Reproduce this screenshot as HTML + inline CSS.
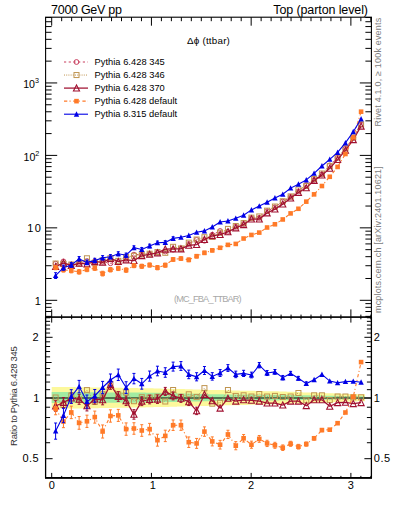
<!DOCTYPE html><html><head><meta charset="utf-8"><style>html,body{margin:0;padding:0;background:#fff;width:393px;height:512px;overflow:hidden}svg{display:block}text{font-family:"Liberation Sans",sans-serif}</style></head><body>
<svg width="393" height="512" viewBox="0 0 393 512">
<rect width="393" height="512" fill="#fff"/>
<g clip-path="url(#rclip)">
<polygon fill="#fcf89c" points="51.7,387 59.53,387 59.53,387 67.37,387 67.37,387.06 75.2,387.06 75.2,387.18 83.03,387.18 83.03,387.3 90.86,387.3 90.86,387.42 98.7,387.42 98.7,387.54 106.53,387.54 106.53,387.66 114.36,387.66 114.36,387.78 122.19,387.78 122.19,387.9 130.03,387.9 130.03,388.02 137.86,388.02 137.86,388.14 145.69,388.14 145.69,388.3 153.53,388.3 153.53,388.5 161.36,388.5 161.36,388.7 169.19,388.7 169.19,388.9 177.02,388.9 177.02,389.1 184.86,389.1 184.86,389.3 192.69,389.3 192.69,389.5 200.52,389.5 200.52,389.7 208.36,389.7 208.36,389.9 216.19,389.9 216.19,390.1 224.02,390.1 224.02,390.29 231.85,390.29 231.85,390.46 239.69,390.46 239.69,390.63 247.52,390.63 247.52,390.81 255.35,390.81 255.35,390.98 263.18,390.98 263.18,391.15 271.02,391.15 271.02,391.33 278.85,391.33 278.85,391.5 286.68,391.5 286.68,391.8 294.52,391.8 294.52,392.1 302.35,392.1 302.35,392.4 310.18,392.4 310.18,392.7 318.01,392.7 318.01,393 325.85,393 325.85,393.3 333.68,393.3 333.68,393.6 341.51,393.6 341.51,393.9 349.35,393.9 349.35,394.1 357.18,394.1 357.18,394.3 365.01,394.3 365.01,401.3 357.18,401.3 357.18,401.5 349.35,401.5 349.35,401.7 341.51,401.7 341.51,402 333.68,402 333.68,402.3 325.85,402.3 325.85,402.6 318.01,402.6 318.01,402.9 310.18,402.9 310.18,403.2 302.35,403.2 302.35,403.5 294.52,403.5 294.52,403.8 286.68,403.8 286.68,404.1 278.85,404.1 278.85,404.27 271.02,404.27 271.02,404.45 263.18,404.45 263.18,404.62 255.35,404.62 255.35,404.79 247.52,404.79 247.52,404.97 239.69,404.97 239.69,405.14 231.85,405.14 231.85,405.31 224.02,405.31 224.02,405.5 216.19,405.5 216.19,405.7 208.36,405.7 208.36,405.9 200.52,405.9 200.52,406.1 192.69,406.1 192.69,406.3 184.86,406.3 184.86,406.5 177.02,406.5 177.02,406.7 169.19,406.7 169.19,406.9 161.36,406.9 161.36,407.1 153.53,407.1 153.53,407.3 145.69,407.3 145.69,407.46 137.86,407.46 137.86,407.58 130.03,407.58 130.03,407.7 122.19,407.7 122.19,407.82 114.36,407.82 114.36,407.94 106.53,407.94 106.53,408.06 98.7,408.06 98.7,408.18 90.86,408.18 90.86,408.3 83.03,408.3 83.03,408.42 75.2,408.42 75.2,408.54 67.37,408.54 67.37,408.6 59.53,408.6 59.53,408.6 51.7,408.6"/>
<polygon fill="#a2eca2" points="51.7,392.1 59.53,392.1 59.53,392.1 67.37,392.1 67.37,392.12 75.2,392.12 75.2,392.18 83.03,392.18 83.03,392.23 90.86,392.23 90.86,392.28 98.7,392.28 98.7,392.33 106.53,392.33 106.53,392.38 114.36,392.38 114.36,392.43 122.19,392.43 122.19,392.48 130.03,392.48 130.03,392.53 137.86,392.53 137.86,392.58 145.69,392.58 145.69,392.69 153.53,392.69 153.53,392.87 161.36,392.87 161.36,393.05 169.19,393.05 169.19,393.23 177.02,393.23 177.02,393.41 184.86,393.41 184.86,393.59 192.69,393.59 192.69,393.77 200.52,393.77 200.52,393.95 208.36,393.95 208.36,394.13 216.19,394.13 216.19,394.31 224.02,394.31 224.02,394.43 231.85,394.43 231.85,394.49 239.69,394.49 239.69,394.55 247.52,394.55 247.52,394.61 255.35,394.61 255.35,394.67 263.18,394.67 263.18,394.73 271.02,394.73 271.02,394.79 278.85,394.79 278.85,394.85 286.68,394.85 286.68,394.99 294.52,394.99 294.52,395.14 302.35,395.14 302.35,395.28 310.18,395.28 310.18,395.43 318.01,395.43 318.01,395.57 325.85,395.57 325.85,395.71 333.68,395.71 333.68,395.86 341.51,395.86 341.51,396 349.35,396 349.35,396.1 357.18,396.1 357.18,396.2 365.01,396.2 365.01,399 357.18,399 357.18,399.1 349.35,399.1 349.35,399.2 341.51,399.2 341.51,399.34 333.68,399.34 333.68,399.49 325.85,399.49 325.85,399.63 318.01,399.63 318.01,399.78 310.18,399.78 310.18,399.92 302.35,399.92 302.35,400.06 294.52,400.06 294.52,400.21 286.68,400.21 286.68,400.35 278.85,400.35 278.85,400.41 271.02,400.41 271.02,400.47 263.18,400.47 263.18,400.53 255.35,400.53 255.35,400.59 247.52,400.59 247.52,400.65 239.69,400.65 239.69,400.71 231.85,400.71 231.85,400.77 224.02,400.77 224.02,400.89 216.19,400.89 216.19,401.07 208.36,401.07 208.36,401.25 200.52,401.25 200.52,401.43 192.69,401.43 192.69,401.61 184.86,401.61 184.86,401.79 177.02,401.79 177.02,401.97 169.19,401.97 169.19,402.15 161.36,402.15 161.36,402.33 153.53,402.33 153.53,402.51 145.69,402.51 145.69,402.62 137.86,402.62 137.86,402.68 130.03,402.68 130.03,402.73 122.19,402.73 122.19,402.78 114.36,402.78 114.36,402.83 106.53,402.83 106.53,402.88 98.7,402.88 98.7,402.93 90.86,402.93 90.86,402.98 83.03,402.98 83.03,403.03 75.2,403.03 75.2,403.08 67.37,403.08 67.37,403.1 59.53,403.1 59.53,403.1 51.7,403.1"/>
</g>
<defs><clipPath id="mclip"><rect x="45" y="17" width="326" height="300"/></clipPath><clipPath id="rclip"><rect x="45" y="317" width="326" height="160.7"/></clipPath></defs>
<line x1="45" y1="398" x2="371" y2="398" stroke="#000" stroke-width="1.2"/>
<g clip-path="url(#mclip)">
<path d="M55.62,263.7 L63.45,261.41 L71.28,265.44 L79.11,262.9 L86.95,261.11 L94.78,261.35 L102.61,261.57 L110.45,263.27 L118.28,262.14 L126.11,258.94 L133.94,254.67 L141.78,254.6 L149.61,253.87 L157.44,252.5 L165.28,251.56 L173.11,249.68 L180.94,248.8 L188.77,243.98 L196.61,239.92 L204.44,240.78 L212.27,234.76 L220.1,230.98 L227.94,231.78 L235.77,226.78 L243.6,224.04 L251.44,218.17 L259.27,217.89 L267.1,211.18 L274.93,207.28 L282.77,201.6 L290.6,196.94 L298.43,191.28 L306.27,185.07 L314.1,179.88 L321.93,174.48 L329.76,165.37 L337.6,157.86 L345.43,148.79 L353.26,137.7 L361.09,124.58" fill="none" stroke="#c83c5c" stroke-width="1.0" stroke-dasharray="2.2,2.5"/>
<circle cx="55.62" cy="263.7" r="2.4" fill="none" stroke="#c83c5c" stroke-width="1"/>
<circle cx="63.45" cy="261.41" r="2.4" fill="none" stroke="#c83c5c" stroke-width="1"/>
<circle cx="71.28" cy="265.44" r="2.4" fill="none" stroke="#c83c5c" stroke-width="1"/>
<circle cx="79.11" cy="262.9" r="2.4" fill="none" stroke="#c83c5c" stroke-width="1"/>
<circle cx="86.95" cy="261.11" r="2.4" fill="none" stroke="#c83c5c" stroke-width="1"/>
<circle cx="94.78" cy="261.35" r="2.4" fill="none" stroke="#c83c5c" stroke-width="1"/>
<circle cx="102.61" cy="261.57" r="2.4" fill="none" stroke="#c83c5c" stroke-width="1"/>
<circle cx="110.45" cy="263.27" r="2.4" fill="none" stroke="#c83c5c" stroke-width="1"/>
<circle cx="118.28" cy="262.14" r="2.4" fill="none" stroke="#c83c5c" stroke-width="1"/>
<circle cx="126.11" cy="258.94" r="2.4" fill="none" stroke="#c83c5c" stroke-width="1"/>
<circle cx="133.94" cy="254.67" r="2.4" fill="none" stroke="#c83c5c" stroke-width="1"/>
<circle cx="141.78" cy="254.6" r="2.4" fill="none" stroke="#c83c5c" stroke-width="1"/>
<circle cx="149.61" cy="253.87" r="2.4" fill="none" stroke="#c83c5c" stroke-width="1"/>
<circle cx="157.44" cy="252.5" r="2.4" fill="none" stroke="#c83c5c" stroke-width="1"/>
<circle cx="165.28" cy="251.56" r="2.4" fill="none" stroke="#c83c5c" stroke-width="1"/>
<circle cx="173.11" cy="249.68" r="2.4" fill="none" stroke="#c83c5c" stroke-width="1"/>
<circle cx="180.94" cy="248.8" r="2.4" fill="none" stroke="#c83c5c" stroke-width="1"/>
<circle cx="188.77" cy="243.98" r="2.4" fill="none" stroke="#c83c5c" stroke-width="1"/>
<circle cx="196.61" cy="239.92" r="2.4" fill="none" stroke="#c83c5c" stroke-width="1"/>
<circle cx="204.44" cy="240.78" r="2.4" fill="none" stroke="#c83c5c" stroke-width="1"/>
<circle cx="212.27" cy="234.76" r="2.4" fill="none" stroke="#c83c5c" stroke-width="1"/>
<circle cx="220.1" cy="230.98" r="2.4" fill="none" stroke="#c83c5c" stroke-width="1"/>
<circle cx="227.94" cy="231.78" r="2.4" fill="none" stroke="#c83c5c" stroke-width="1"/>
<circle cx="235.77" cy="226.78" r="2.4" fill="none" stroke="#c83c5c" stroke-width="1"/>
<circle cx="243.6" cy="224.04" r="2.4" fill="none" stroke="#c83c5c" stroke-width="1"/>
<circle cx="251.44" cy="218.17" r="2.4" fill="none" stroke="#c83c5c" stroke-width="1"/>
<circle cx="259.27" cy="217.89" r="2.4" fill="none" stroke="#c83c5c" stroke-width="1"/>
<circle cx="267.1" cy="211.18" r="2.4" fill="none" stroke="#c83c5c" stroke-width="1"/>
<circle cx="274.93" cy="207.28" r="2.4" fill="none" stroke="#c83c5c" stroke-width="1"/>
<circle cx="282.77" cy="201.6" r="2.4" fill="none" stroke="#c83c5c" stroke-width="1"/>
<circle cx="290.6" cy="196.94" r="2.4" fill="none" stroke="#c83c5c" stroke-width="1"/>
<circle cx="298.43" cy="191.28" r="2.4" fill="none" stroke="#c83c5c" stroke-width="1"/>
<circle cx="306.27" cy="185.07" r="2.4" fill="none" stroke="#c83c5c" stroke-width="1"/>
<circle cx="314.1" cy="179.88" r="2.4" fill="none" stroke="#c83c5c" stroke-width="1"/>
<circle cx="321.93" cy="174.48" r="2.4" fill="none" stroke="#c83c5c" stroke-width="1"/>
<circle cx="329.76" cy="165.37" r="2.4" fill="none" stroke="#c83c5c" stroke-width="1"/>
<circle cx="337.6" cy="157.86" r="2.4" fill="none" stroke="#c83c5c" stroke-width="1"/>
<circle cx="345.43" cy="148.79" r="2.4" fill="none" stroke="#c83c5c" stroke-width="1"/>
<circle cx="353.26" cy="137.7" r="2.4" fill="none" stroke="#c83c5c" stroke-width="1"/>
<circle cx="361.09" cy="124.58" r="2.4" fill="none" stroke="#c83c5c" stroke-width="1"/>
<path d="M55.62,263.53 L63.45,263.93 L71.28,264.54 L79.11,263.51 L86.95,258.27 L94.78,262.76 L102.61,260.24 L110.45,258.24 L118.28,260.84 L126.11,256.96 L133.94,255.82 L141.78,254.32 L149.61,253.69 L157.44,252.04 L165.28,252.82 L173.11,246.81 L180.94,248.4 L188.77,242.65 L196.61,239.52 L204.44,237.23 L212.27,236.81 L220.1,232.67 L227.94,228.91 L235.77,226.03 L243.6,223.07 L251.44,217.63 L259.27,216.45 L267.1,210.65 L274.93,206.53 L282.77,201.24 L290.6,196.4 L298.43,189.48 L306.27,185.94 L314.1,178.91 L321.93,173.51 L329.76,166.13 L337.6,157.32 L345.43,148.25 L353.26,137.45 L361.09,124.33" fill="none" stroke="#bf9450" stroke-width="1.0" stroke-dasharray="1,1.2"/>
<rect x="53.12" y="261.03" width="5" height="5" fill="none" stroke="#bf9450" stroke-width="1"/>
<rect x="60.95" y="261.43" width="5" height="5" fill="none" stroke="#bf9450" stroke-width="1"/>
<rect x="68.78" y="262.04" width="5" height="5" fill="none" stroke="#bf9450" stroke-width="1"/>
<rect x="76.61" y="261.01" width="5" height="5" fill="none" stroke="#bf9450" stroke-width="1"/>
<rect x="84.45" y="255.77" width="5" height="5" fill="none" stroke="#bf9450" stroke-width="1"/>
<rect x="92.28" y="260.26" width="5" height="5" fill="none" stroke="#bf9450" stroke-width="1"/>
<rect x="100.11" y="257.74" width="5" height="5" fill="none" stroke="#bf9450" stroke-width="1"/>
<rect x="107.95" y="255.74" width="5" height="5" fill="none" stroke="#bf9450" stroke-width="1"/>
<rect x="115.78" y="258.34" width="5" height="5" fill="none" stroke="#bf9450" stroke-width="1"/>
<rect x="123.61" y="254.46" width="5" height="5" fill="none" stroke="#bf9450" stroke-width="1"/>
<rect x="131.44" y="253.32" width="5" height="5" fill="none" stroke="#bf9450" stroke-width="1"/>
<rect x="139.28" y="251.82" width="5" height="5" fill="none" stroke="#bf9450" stroke-width="1"/>
<rect x="147.11" y="251.19" width="5" height="5" fill="none" stroke="#bf9450" stroke-width="1"/>
<rect x="154.94" y="249.54" width="5" height="5" fill="none" stroke="#bf9450" stroke-width="1"/>
<rect x="162.78" y="250.32" width="5" height="5" fill="none" stroke="#bf9450" stroke-width="1"/>
<rect x="170.61" y="244.31" width="5" height="5" fill="none" stroke="#bf9450" stroke-width="1"/>
<rect x="178.44" y="245.9" width="5" height="5" fill="none" stroke="#bf9450" stroke-width="1"/>
<rect x="186.27" y="240.15" width="5" height="5" fill="none" stroke="#bf9450" stroke-width="1"/>
<rect x="194.11" y="237.02" width="5" height="5" fill="none" stroke="#bf9450" stroke-width="1"/>
<rect x="201.94" y="234.73" width="5" height="5" fill="none" stroke="#bf9450" stroke-width="1"/>
<rect x="209.77" y="234.31" width="5" height="5" fill="none" stroke="#bf9450" stroke-width="1"/>
<rect x="217.6" y="230.17" width="5" height="5" fill="none" stroke="#bf9450" stroke-width="1"/>
<rect x="225.44" y="226.41" width="5" height="5" fill="none" stroke="#bf9450" stroke-width="1"/>
<rect x="233.27" y="223.53" width="5" height="5" fill="none" stroke="#bf9450" stroke-width="1"/>
<rect x="241.1" y="220.57" width="5" height="5" fill="none" stroke="#bf9450" stroke-width="1"/>
<rect x="248.94" y="215.13" width="5" height="5" fill="none" stroke="#bf9450" stroke-width="1"/>
<rect x="256.77" y="213.95" width="5" height="5" fill="none" stroke="#bf9450" stroke-width="1"/>
<rect x="264.6" y="208.15" width="5" height="5" fill="none" stroke="#bf9450" stroke-width="1"/>
<rect x="272.43" y="204.03" width="5" height="5" fill="none" stroke="#bf9450" stroke-width="1"/>
<rect x="280.27" y="198.74" width="5" height="5" fill="none" stroke="#bf9450" stroke-width="1"/>
<rect x="288.1" y="193.9" width="5" height="5" fill="none" stroke="#bf9450" stroke-width="1"/>
<rect x="295.93" y="186.98" width="5" height="5" fill="none" stroke="#bf9450" stroke-width="1"/>
<rect x="303.77" y="183.44" width="5" height="5" fill="none" stroke="#bf9450" stroke-width="1"/>
<rect x="311.6" y="176.41" width="5" height="5" fill="none" stroke="#bf9450" stroke-width="1"/>
<rect x="319.43" y="171.01" width="5" height="5" fill="none" stroke="#bf9450" stroke-width="1"/>
<rect x="327.26" y="163.63" width="5" height="5" fill="none" stroke="#bf9450" stroke-width="1"/>
<rect x="335.1" y="154.82" width="5" height="5" fill="none" stroke="#bf9450" stroke-width="1"/>
<rect x="342.93" y="145.75" width="5" height="5" fill="none" stroke="#bf9450" stroke-width="1"/>
<rect x="350.76" y="134.95" width="5" height="5" fill="none" stroke="#bf9450" stroke-width="1"/>
<rect x="358.59" y="121.83" width="5" height="5" fill="none" stroke="#bf9450" stroke-width="1"/>
<path d="M55.62,266.58 L63.45,263.03 L71.28,265.47 L79.11,263.36 L86.95,263.95 L94.78,261.75 L102.61,262.26 L110.45,258.49 L118.28,261.6 L126.11,259.94 L133.94,260.57 L141.78,255.75 L149.61,254.41 L157.44,252.93 L165.28,249.19 L173.11,248.93 L180.94,248.94 L188.77,245.35 L196.61,244.55 L204.44,239.53 L212.27,235.77 L220.1,234.65 L227.94,231.92 L235.77,227.93 L243.6,224.69 L251.44,219.03 L259.27,219.04 L267.1,213.02 L274.93,209.11 L282.77,204.15 L290.6,198.09 L298.43,192.43 L306.27,187.84 L314.1,180.52 L321.93,175.13 L329.76,168.36 L337.6,159.55 L345.43,150.34 L353.26,139.75 L361.09,126.27" fill="none" stroke="#a01030" stroke-width="1.25"/>
<polygon points="55.62,263.38 52.57,269.48 58.67,269.48" fill="none" stroke="#a01030" stroke-width="1.1"/>
<polygon points="63.45,259.83 60.4,265.93 66.5,265.93" fill="none" stroke="#a01030" stroke-width="1.1"/>
<polygon points="71.28,262.27 68.23,268.37 74.33,268.37" fill="none" stroke="#a01030" stroke-width="1.1"/>
<polygon points="79.11,260.16 76.06,266.26 82.16,266.26" fill="none" stroke="#a01030" stroke-width="1.1"/>
<polygon points="86.95,260.75 83.9,266.85 90,266.85" fill="none" stroke="#a01030" stroke-width="1.1"/>
<polygon points="94.78,258.55 91.73,264.65 97.83,264.65" fill="none" stroke="#a01030" stroke-width="1.1"/>
<polygon points="102.61,259.06 99.56,265.16 105.66,265.16" fill="none" stroke="#a01030" stroke-width="1.1"/>
<polygon points="110.45,255.29 107.4,261.39 113.5,261.39" fill="none" stroke="#a01030" stroke-width="1.1"/>
<polygon points="118.28,258.4 115.23,264.5 121.33,264.5" fill="none" stroke="#a01030" stroke-width="1.1"/>
<polygon points="126.11,256.74 123.06,262.84 129.16,262.84" fill="none" stroke="#a01030" stroke-width="1.1"/>
<polygon points="133.94,257.37 130.89,263.47 136.99,263.47" fill="none" stroke="#a01030" stroke-width="1.1"/>
<polygon points="141.78,252.55 138.73,258.65 144.83,258.65" fill="none" stroke="#a01030" stroke-width="1.1"/>
<polygon points="149.61,251.21 146.56,257.31 152.66,257.31" fill="none" stroke="#a01030" stroke-width="1.1"/>
<polygon points="157.44,249.73 154.39,255.83 160.49,255.83" fill="none" stroke="#a01030" stroke-width="1.1"/>
<polygon points="165.28,245.99 162.23,252.09 168.33,252.09" fill="none" stroke="#a01030" stroke-width="1.1"/>
<polygon points="173.11,245.73 170.06,251.83 176.16,251.83" fill="none" stroke="#a01030" stroke-width="1.1"/>
<polygon points="180.94,245.74 177.89,251.84 183.99,251.84" fill="none" stroke="#a01030" stroke-width="1.1"/>
<polygon points="188.77,242.15 185.72,248.25 191.82,248.25" fill="none" stroke="#a01030" stroke-width="1.1"/>
<polygon points="196.61,241.35 193.56,247.45 199.66,247.45" fill="none" stroke="#a01030" stroke-width="1.1"/>
<polygon points="204.44,236.33 201.39,242.43 207.49,242.43" fill="none" stroke="#a01030" stroke-width="1.1"/>
<polygon points="212.27,232.57 209.22,238.67 215.32,238.67" fill="none" stroke="#a01030" stroke-width="1.1"/>
<polygon points="220.1,231.45 217.05,237.55 223.15,237.55" fill="none" stroke="#a01030" stroke-width="1.1"/>
<polygon points="227.94,228.72 224.89,234.82 230.99,234.82" fill="none" stroke="#a01030" stroke-width="1.1"/>
<polygon points="235.77,224.73 232.72,230.83 238.82,230.83" fill="none" stroke="#a01030" stroke-width="1.1"/>
<polygon points="243.6,221.49 240.55,227.59 246.65,227.59" fill="none" stroke="#a01030" stroke-width="1.1"/>
<polygon points="251.44,215.83 248.39,221.93 254.49,221.93" fill="none" stroke="#a01030" stroke-width="1.1"/>
<polygon points="259.27,215.84 256.22,221.94 262.32,221.94" fill="none" stroke="#a01030" stroke-width="1.1"/>
<polygon points="267.1,209.82 264.05,215.92 270.15,215.92" fill="none" stroke="#a01030" stroke-width="1.1"/>
<polygon points="274.93,205.91 271.88,212.01 277.98,212.01" fill="none" stroke="#a01030" stroke-width="1.1"/>
<polygon points="282.77,200.95 279.72,207.05 285.82,207.05" fill="none" stroke="#a01030" stroke-width="1.1"/>
<polygon points="290.6,194.89 287.55,200.99 293.65,200.99" fill="none" stroke="#a01030" stroke-width="1.1"/>
<polygon points="298.43,189.23 295.38,195.33 301.48,195.33" fill="none" stroke="#a01030" stroke-width="1.1"/>
<polygon points="306.27,184.64 303.22,190.74 309.32,190.74" fill="none" stroke="#a01030" stroke-width="1.1"/>
<polygon points="314.1,177.32 311.05,183.42 317.15,183.42" fill="none" stroke="#a01030" stroke-width="1.1"/>
<polygon points="321.93,171.93 318.88,178.03 324.98,178.03" fill="none" stroke="#a01030" stroke-width="1.1"/>
<polygon points="329.76,165.16 326.71,171.26 332.81,171.26" fill="none" stroke="#a01030" stroke-width="1.1"/>
<polygon points="337.6,156.35 334.55,162.45 340.65,162.45" fill="none" stroke="#a01030" stroke-width="1.1"/>
<polygon points="345.43,147.14 342.38,153.24 348.48,153.24" fill="none" stroke="#a01030" stroke-width="1.1"/>
<polygon points="353.26,136.55 350.21,142.65 356.31,142.65" fill="none" stroke="#a01030" stroke-width="1.1"/>
<polygon points="361.09,123.07 358.04,129.17 364.14,129.17" fill="none" stroke="#a01030" stroke-width="1.1"/>
<path d="M55.62,267.59 L63.45,269.86 L71.28,270.61 L79.11,271.85 L86.95,269.48 L94.78,268.22 L102.61,273.61 L110.45,269.74 L118.28,268.39 L126.11,270.11 L133.94,265.63 L141.78,266.28 L149.61,265.05 L157.44,267.67 L165.28,265.18 L173.11,259.46 L180.94,258.57 L188.77,259.87 L196.61,256.23 L204.44,252.86 L212.27,250.36 L220.1,247.77 L227.94,244.86 L235.77,243.92 L243.6,238.52 L251.44,234.95 L259.27,232.59 L267.1,227.5 L274.93,224.28 L282.77,219.46 L290.6,213.4 L298.43,208.78 L306.27,201.64 L314.1,194.36 L321.93,186.02 L329.76,176.77 L337.6,166.92 L345.43,154 L353.26,137.31 L361.09,111.68" fill="none" stroke="#ff7a28" stroke-width="1.1" stroke-dasharray="3.3,2.2,1.1,2.6"/>
<path d="M55.62,265.45 V269.72 M54.12,265.45 h3 M54.12,269.72 h3" stroke="#ff7a28" stroke-width="1"/>
<path d="M63.45,267.64 V272.07 M61.95,267.64 h3 M61.95,272.07 h3" stroke="#ff7a28" stroke-width="1"/>
<path d="M71.28,268.37 V272.86 M69.78,268.37 h3 M69.78,272.86 h3" stroke="#ff7a28" stroke-width="1"/>
<path d="M79.11,269.56 V274.13 M77.61,269.56 h3 M77.61,274.13 h3" stroke="#ff7a28" stroke-width="1"/>
<path d="M86.95,267.28 V271.68 M85.45,267.28 h3 M85.45,271.68 h3" stroke="#ff7a28" stroke-width="1"/>
<path d="M94.78,266.06 V270.38 M93.28,266.06 h3 M93.28,270.38 h3" stroke="#ff7a28" stroke-width="1"/>
<path d="M102.61,271.26 V275.96 M101.11,271.26 h3 M101.11,275.96 h3" stroke="#ff7a28" stroke-width="1"/>
<path d="M110.45,267.53 V271.95 M108.95,267.53 h3 M108.95,271.95 h3" stroke="#ff7a28" stroke-width="1"/>
<path d="M118.28,266.23 V270.55 M116.78,266.23 h3 M116.78,270.55 h3" stroke="#ff7a28" stroke-width="1"/>
<path d="M126.11,267.89 V272.34 M124.61,267.89 h3 M124.61,272.34 h3" stroke="#ff7a28" stroke-width="1"/>
<path d="M133.94,263.56 V267.7 M132.44,263.56 h3 M132.44,267.7 h3" stroke="#ff7a28" stroke-width="1"/>
<path d="M141.78,264.19 V268.38 M140.28,264.19 h3 M140.28,268.38 h3" stroke="#ff7a28" stroke-width="1"/>
<path d="M149.61,262.99 V267.1 M148.11,262.99 h3 M148.11,267.1 h3" stroke="#ff7a28" stroke-width="1"/>
<path d="M157.44,265.53 V269.81 M155.94,265.53 h3 M155.94,269.81 h3" stroke="#ff7a28" stroke-width="1"/>
<path d="M165.28,263.13 V267.24 M163.78,263.13 h3 M163.78,267.24 h3" stroke="#ff7a28" stroke-width="1"/>
<path d="M173.11,257.58 V261.34 M171.61,257.58 h3 M171.61,261.34 h3" stroke="#ff7a28" stroke-width="1"/>
<path d="M180.94,256.72 V260.43 M179.44,256.72 h3 M179.44,260.43 h3" stroke="#ff7a28" stroke-width="1"/>
<path d="M188.77,257.98 V261.76 M187.27,257.98 h3 M187.27,261.76 h3" stroke="#ff7a28" stroke-width="1"/>
<path d="M196.61,254.45 V258.02 M195.11,254.45 h3 M195.11,258.02 h3" stroke="#ff7a28" stroke-width="1"/>
<path d="M204.44,251.17 V254.55 M202.94,251.17 h3 M202.94,254.55 h3" stroke="#ff7a28" stroke-width="1"/>
<path d="M212.27,248.73 V251.98 M210.77,248.73 h3 M210.77,251.98 h3" stroke="#ff7a28" stroke-width="1"/>
<rect x="53.32" y="265.29" width="4.6" height="4.6" fill="#ff7a28"/>
<rect x="61.15" y="267.56" width="4.6" height="4.6" fill="#ff7a28"/>
<rect x="68.98" y="268.31" width="4.6" height="4.6" fill="#ff7a28"/>
<rect x="76.81" y="269.55" width="4.6" height="4.6" fill="#ff7a28"/>
<rect x="84.65" y="267.18" width="4.6" height="4.6" fill="#ff7a28"/>
<rect x="92.48" y="265.92" width="4.6" height="4.6" fill="#ff7a28"/>
<rect x="100.31" y="271.31" width="4.6" height="4.6" fill="#ff7a28"/>
<rect x="108.15" y="267.44" width="4.6" height="4.6" fill="#ff7a28"/>
<rect x="115.98" y="266.09" width="4.6" height="4.6" fill="#ff7a28"/>
<rect x="123.81" y="267.81" width="4.6" height="4.6" fill="#ff7a28"/>
<rect x="131.64" y="263.33" width="4.6" height="4.6" fill="#ff7a28"/>
<rect x="139.48" y="263.98" width="4.6" height="4.6" fill="#ff7a28"/>
<rect x="147.31" y="262.75" width="4.6" height="4.6" fill="#ff7a28"/>
<rect x="155.14" y="265.37" width="4.6" height="4.6" fill="#ff7a28"/>
<rect x="162.98" y="262.88" width="4.6" height="4.6" fill="#ff7a28"/>
<rect x="170.81" y="257.16" width="4.6" height="4.6" fill="#ff7a28"/>
<rect x="178.64" y="256.27" width="4.6" height="4.6" fill="#ff7a28"/>
<rect x="186.47" y="257.57" width="4.6" height="4.6" fill="#ff7a28"/>
<rect x="194.31" y="253.93" width="4.6" height="4.6" fill="#ff7a28"/>
<rect x="202.14" y="250.56" width="4.6" height="4.6" fill="#ff7a28"/>
<rect x="209.97" y="248.06" width="4.6" height="4.6" fill="#ff7a28"/>
<rect x="217.8" y="245.47" width="4.6" height="4.6" fill="#ff7a28"/>
<rect x="225.64" y="242.56" width="4.6" height="4.6" fill="#ff7a28"/>
<rect x="233.47" y="241.62" width="4.6" height="4.6" fill="#ff7a28"/>
<rect x="241.3" y="236.22" width="4.6" height="4.6" fill="#ff7a28"/>
<rect x="249.14" y="232.65" width="4.6" height="4.6" fill="#ff7a28"/>
<rect x="256.97" y="230.29" width="4.6" height="4.6" fill="#ff7a28"/>
<rect x="264.8" y="225.2" width="4.6" height="4.6" fill="#ff7a28"/>
<rect x="272.63" y="221.98" width="4.6" height="4.6" fill="#ff7a28"/>
<rect x="280.47" y="217.16" width="4.6" height="4.6" fill="#ff7a28"/>
<rect x="288.3" y="211.1" width="4.6" height="4.6" fill="#ff7a28"/>
<rect x="296.13" y="206.48" width="4.6" height="4.6" fill="#ff7a28"/>
<rect x="303.97" y="199.34" width="4.6" height="4.6" fill="#ff7a28"/>
<rect x="311.8" y="192.06" width="4.6" height="4.6" fill="#ff7a28"/>
<rect x="319.63" y="183.72" width="4.6" height="4.6" fill="#ff7a28"/>
<rect x="327.46" y="174.47" width="4.6" height="4.6" fill="#ff7a28"/>
<rect x="335.3" y="164.62" width="4.6" height="4.6" fill="#ff7a28"/>
<rect x="343.13" y="151.7" width="4.6" height="4.6" fill="#ff7a28"/>
<rect x="350.96" y="135.01" width="4.6" height="4.6" fill="#ff7a28"/>
<rect x="358.79" y="109.38" width="4.6" height="4.6" fill="#ff7a28"/>
<path d="M55.62,275.6 L63.45,267.7 L71.28,264.9 L79.11,258.8 L86.95,262.4 L94.78,260.6 L102.61,257.8 L110.45,256.8 L118.28,253.8 L126.11,255.2 L133.94,247.7 L141.78,249.5 L149.61,246 L157.44,242.8 L165.28,242.4 L173.11,238.4 L180.94,237.3 L188.77,235.5 L196.61,232.3 L204.44,230.9 L212.27,227 L220.1,222 L227.94,221 L235.77,218.3 L243.6,215.2 L251.44,209.9 L259.27,206.1 L267.1,202.2 L274.93,197.9 L282.77,194.3 L290.6,188.1 L298.43,184.2 L306.27,179.9 L314.1,173.3 L321.93,166 L329.76,159.3 L337.6,152.4 L345.43,142.9 L353.26,131.7 L361.09,118.9" fill="none" stroke="#0000e6" stroke-width="1.1"/>
<path d="M55.62,272.69 V278.51 M54.12,272.69 h3 M54.12,278.51 h3" stroke="#0000e6" stroke-width="1"/>
<path d="M63.45,265.13 V270.27 M61.95,265.13 h3 M61.95,270.27 h3" stroke="#0000e6" stroke-width="1"/>
<path d="M71.28,262.44 V267.36 M69.78,262.44 h3 M69.78,267.36 h3" stroke="#0000e6" stroke-width="1"/>
<path d="M79.11,256.57 V261.03 M77.61,256.57 h3 M77.61,261.03 h3" stroke="#0000e6" stroke-width="1"/>
<path d="M86.95,260.04 V264.76 M85.45,260.04 h3 M85.45,264.76 h3" stroke="#0000e6" stroke-width="1"/>
<path d="M94.78,258.31 V262.89 M93.28,258.31 h3 M93.28,262.89 h3" stroke="#0000e6" stroke-width="1"/>
<path d="M102.61,255.61 V259.99 M101.11,255.61 h3 M101.11,259.99 h3" stroke="#0000e6" stroke-width="1"/>
<path d="M110.45,254.64 V258.96 M108.95,254.64 h3 M108.95,258.96 h3" stroke="#0000e6" stroke-width="1"/>
<path d="M118.28,251.74 V255.86 M116.78,251.74 h3 M116.78,255.86 h3" stroke="#0000e6" stroke-width="1"/>
<path d="M126.11,253.09 V257.31 M124.61,253.09 h3 M124.61,257.31 h3" stroke="#0000e6" stroke-width="1"/>
<path d="M133.94,245.83 V249.57 M132.44,245.83 h3 M132.44,249.57 h3" stroke="#0000e6" stroke-width="1"/>
<path d="M141.78,247.58 V251.42 M140.28,247.58 h3 M140.28,251.42 h3" stroke="#0000e6" stroke-width="1"/>
<path d="M149.61,244.18 V247.82 M148.11,244.18 h3 M148.11,247.82 h3" stroke="#0000e6" stroke-width="1"/>
<path d="M157.44,241.07 V244.53 M155.94,241.07 h3 M155.94,244.53 h3" stroke="#0000e6" stroke-width="1"/>
<path d="M165.28,240.68 V244.12 M163.78,240.68 h3 M163.78,244.12 h3" stroke="#0000e6" stroke-width="1"/>
<path d="M173.11,236.79 V240.01 M171.61,236.79 h3 M171.61,240.01 h3" stroke="#0000e6" stroke-width="1"/>
<polygon points="55.62,272.7 52.92,278.1 58.32,278.1" fill="#0000e6"/>
<polygon points="63.45,264.8 60.75,270.2 66.15,270.2" fill="#0000e6"/>
<polygon points="71.28,262 68.58,267.4 73.98,267.4" fill="#0000e6"/>
<polygon points="79.11,255.9 76.41,261.3 81.81,261.3" fill="#0000e6"/>
<polygon points="86.95,259.5 84.25,264.9 89.65,264.9" fill="#0000e6"/>
<polygon points="94.78,257.7 92.08,263.1 97.48,263.1" fill="#0000e6"/>
<polygon points="102.61,254.9 99.91,260.3 105.31,260.3" fill="#0000e6"/>
<polygon points="110.45,253.9 107.75,259.3 113.15,259.3" fill="#0000e6"/>
<polygon points="118.28,250.9 115.58,256.3 120.98,256.3" fill="#0000e6"/>
<polygon points="126.11,252.3 123.41,257.7 128.81,257.7" fill="#0000e6"/>
<polygon points="133.94,244.8 131.24,250.2 136.64,250.2" fill="#0000e6"/>
<polygon points="141.78,246.6 139.08,252 144.48,252" fill="#0000e6"/>
<polygon points="149.61,243.1 146.91,248.5 152.31,248.5" fill="#0000e6"/>
<polygon points="157.44,239.9 154.74,245.3 160.14,245.3" fill="#0000e6"/>
<polygon points="165.28,239.5 162.58,244.9 167.98,244.9" fill="#0000e6"/>
<polygon points="173.11,235.5 170.41,240.9 175.81,240.9" fill="#0000e6"/>
<polygon points="180.94,234.4 178.24,239.8 183.64,239.8" fill="#0000e6"/>
<polygon points="188.77,232.6 186.07,238 191.47,238" fill="#0000e6"/>
<polygon points="196.61,229.4 193.91,234.8 199.31,234.8" fill="#0000e6"/>
<polygon points="204.44,228 201.74,233.4 207.14,233.4" fill="#0000e6"/>
<polygon points="212.27,224.1 209.57,229.5 214.97,229.5" fill="#0000e6"/>
<polygon points="220.1,219.1 217.4,224.5 222.8,224.5" fill="#0000e6"/>
<polygon points="227.94,218.1 225.24,223.5 230.64,223.5" fill="#0000e6"/>
<polygon points="235.77,215.4 233.07,220.8 238.47,220.8" fill="#0000e6"/>
<polygon points="243.6,212.3 240.9,217.7 246.3,217.7" fill="#0000e6"/>
<polygon points="251.44,207 248.74,212.4 254.14,212.4" fill="#0000e6"/>
<polygon points="259.27,203.2 256.57,208.6 261.97,208.6" fill="#0000e6"/>
<polygon points="267.1,199.3 264.4,204.7 269.8,204.7" fill="#0000e6"/>
<polygon points="274.93,195 272.23,200.4 277.63,200.4" fill="#0000e6"/>
<polygon points="282.77,191.4 280.07,196.8 285.47,196.8" fill="#0000e6"/>
<polygon points="290.6,185.2 287.9,190.6 293.3,190.6" fill="#0000e6"/>
<polygon points="298.43,181.3 295.73,186.7 301.13,186.7" fill="#0000e6"/>
<polygon points="306.27,177 303.57,182.4 308.97,182.4" fill="#0000e6"/>
<polygon points="314.1,170.4 311.4,175.8 316.8,175.8" fill="#0000e6"/>
<polygon points="321.93,163.1 319.23,168.5 324.63,168.5" fill="#0000e6"/>
<polygon points="329.76,156.4 327.06,161.8 332.46,161.8" fill="#0000e6"/>
<polygon points="337.6,149.5 334.9,154.9 340.3,154.9" fill="#0000e6"/>
<polygon points="345.43,140 342.73,145.4 348.13,145.4" fill="#0000e6"/>
<polygon points="353.26,128.8 350.56,134.2 355.96,134.2" fill="#0000e6"/>
<polygon points="361.09,116 358.39,121.4 363.79,121.4" fill="#0000e6"/>
</g>
<g clip-path="url(#rclip)">
<path d="M55.62,397.5 L63.45,405 L71.28,395.5 L79.11,399.7 L86.95,390.1 L94.78,401.9 L102.61,394.3 L110.45,384 L118.28,394.4 L126.11,392.5 L133.94,401.2 L141.78,397.2 L149.61,397.5 L157.44,396.7 L165.28,401.5 L173.11,390 L180.94,396.9 L188.77,394.3 L196.61,396.9 L204.44,388.1 L212.27,403.7 L220.1,402.7 L227.94,390 L235.77,395.9 L243.6,395.3 L251.44,396.5 L259.27,394 L267.1,396.5 L274.93,395.9 L282.77,397 L290.6,396.5 L298.43,393 L306.27,400.4 L314.1,395.3 L321.93,395.3 L329.76,400.1 L337.6,396.5 L345.43,396.5 L353.26,397.3 L361.09,397.3" fill="none" stroke="#bf9450" stroke-width="1.0" stroke-dasharray="1,1.2"/>
<rect x="53.12" y="395" width="5" height="5" fill="none" stroke="#bf9450" stroke-width="1"/>
<rect x="60.95" y="402.5" width="5" height="5" fill="none" stroke="#bf9450" stroke-width="1"/>
<rect x="68.78" y="393" width="5" height="5" fill="none" stroke="#bf9450" stroke-width="1"/>
<rect x="76.61" y="397.2" width="5" height="5" fill="none" stroke="#bf9450" stroke-width="1"/>
<rect x="84.45" y="387.6" width="5" height="5" fill="none" stroke="#bf9450" stroke-width="1"/>
<rect x="92.28" y="399.4" width="5" height="5" fill="none" stroke="#bf9450" stroke-width="1"/>
<rect x="100.11" y="391.8" width="5" height="5" fill="none" stroke="#bf9450" stroke-width="1"/>
<rect x="107.95" y="381.5" width="5" height="5" fill="none" stroke="#bf9450" stroke-width="1"/>
<rect x="115.78" y="391.9" width="5" height="5" fill="none" stroke="#bf9450" stroke-width="1"/>
<rect x="123.61" y="390" width="5" height="5" fill="none" stroke="#bf9450" stroke-width="1"/>
<rect x="131.44" y="398.7" width="5" height="5" fill="none" stroke="#bf9450" stroke-width="1"/>
<rect x="139.28" y="394.7" width="5" height="5" fill="none" stroke="#bf9450" stroke-width="1"/>
<rect x="147.11" y="395" width="5" height="5" fill="none" stroke="#bf9450" stroke-width="1"/>
<rect x="154.94" y="394.2" width="5" height="5" fill="none" stroke="#bf9450" stroke-width="1"/>
<rect x="162.78" y="399" width="5" height="5" fill="none" stroke="#bf9450" stroke-width="1"/>
<rect x="170.61" y="387.5" width="5" height="5" fill="none" stroke="#bf9450" stroke-width="1"/>
<rect x="178.44" y="394.4" width="5" height="5" fill="none" stroke="#bf9450" stroke-width="1"/>
<rect x="186.27" y="391.8" width="5" height="5" fill="none" stroke="#bf9450" stroke-width="1"/>
<rect x="194.11" y="394.4" width="5" height="5" fill="none" stroke="#bf9450" stroke-width="1"/>
<rect x="201.94" y="385.6" width="5" height="5" fill="none" stroke="#bf9450" stroke-width="1"/>
<rect x="209.77" y="401.2" width="5" height="5" fill="none" stroke="#bf9450" stroke-width="1"/>
<rect x="217.6" y="400.2" width="5" height="5" fill="none" stroke="#bf9450" stroke-width="1"/>
<rect x="225.44" y="387.5" width="5" height="5" fill="none" stroke="#bf9450" stroke-width="1"/>
<rect x="233.27" y="393.4" width="5" height="5" fill="none" stroke="#bf9450" stroke-width="1"/>
<rect x="241.1" y="392.8" width="5" height="5" fill="none" stroke="#bf9450" stroke-width="1"/>
<rect x="248.94" y="394" width="5" height="5" fill="none" stroke="#bf9450" stroke-width="1"/>
<rect x="256.77" y="391.5" width="5" height="5" fill="none" stroke="#bf9450" stroke-width="1"/>
<rect x="264.6" y="394" width="5" height="5" fill="none" stroke="#bf9450" stroke-width="1"/>
<rect x="272.43" y="393.4" width="5" height="5" fill="none" stroke="#bf9450" stroke-width="1"/>
<rect x="280.27" y="394.5" width="5" height="5" fill="none" stroke="#bf9450" stroke-width="1"/>
<rect x="288.1" y="394" width="5" height="5" fill="none" stroke="#bf9450" stroke-width="1"/>
<rect x="295.93" y="390.5" width="5" height="5" fill="none" stroke="#bf9450" stroke-width="1"/>
<rect x="303.77" y="397.9" width="5" height="5" fill="none" stroke="#bf9450" stroke-width="1"/>
<rect x="311.6" y="392.8" width="5" height="5" fill="none" stroke="#bf9450" stroke-width="1"/>
<rect x="319.43" y="392.8" width="5" height="5" fill="none" stroke="#bf9450" stroke-width="1"/>
<rect x="327.26" y="397.6" width="5" height="5" fill="none" stroke="#bf9450" stroke-width="1"/>
<rect x="335.1" y="394" width="5" height="5" fill="none" stroke="#bf9450" stroke-width="1"/>
<rect x="342.93" y="394" width="5" height="5" fill="none" stroke="#bf9450" stroke-width="1"/>
<rect x="350.76" y="394.8" width="5" height="5" fill="none" stroke="#bf9450" stroke-width="1"/>
<rect x="358.59" y="394.8" width="5" height="5" fill="none" stroke="#bf9450" stroke-width="1"/>
<path d="M55.62,406 L63.45,402.5 L71.28,398.1 L79.11,399.3 L86.95,405.9 L94.78,399.1 L102.61,399.9 L110.45,384.7 L118.28,396.5 L126.11,400.8 L133.94,414.4 L141.78,401.2 L149.61,399.5 L157.44,399.2 L165.28,391.4 L173.11,395.9 L180.94,398.4 L188.77,401.8 L196.61,410.9 L204.44,394.5 L212.27,400.8 L220.1,408.2 L227.94,398.4 L235.77,401.2 L243.6,399.8 L251.44,400.4 L259.27,401.2 L267.1,403.1 L274.93,403.1 L282.77,405.1 L290.6,401.2 L298.43,401.2 L306.27,405.7 L314.1,399.8 L321.93,399.8 L329.76,406.3 L337.6,402.7 L345.43,402.3 L353.26,403.7 L361.09,402.7" fill="none" stroke="#a01030" stroke-width="1.25"/>
<path d="M55.62,400.73 V411.27 M54.12,400.73 h3 M54.12,411.27 h3" stroke="#a01030" stroke-width="1"/>
<path d="M63.45,397.52 V407.48 M61.95,397.52 h3 M61.95,407.48 h3" stroke="#a01030" stroke-width="1"/>
<path d="M71.28,392.93 V403.27 M69.78,392.93 h3 M69.78,403.27 h3" stroke="#a01030" stroke-width="1"/>
<path d="M79.11,394.3 V404.3 M77.61,394.3 h3 M77.61,404.3 h3" stroke="#a01030" stroke-width="1"/>
<path d="M86.95,400.85 V410.95 M85.45,400.85 h3 M85.45,410.95 h3" stroke="#a01030" stroke-width="1"/>
<path d="M94.78,394.22 V403.98 M93.28,394.22 h3 M93.28,403.98 h3" stroke="#a01030" stroke-width="1"/>
<path d="M102.61,394.98 V404.82 M101.11,394.98 h3 M101.11,404.82 h3" stroke="#a01030" stroke-width="1"/>
<path d="M110.45,380.07 V389.33 M108.95,380.07 h3 M108.95,389.33 h3" stroke="#a01030" stroke-width="1"/>
<path d="M118.28,391.63 V401.37 M116.78,391.63 h3 M116.78,401.37 h3" stroke="#a01030" stroke-width="1"/>
<path d="M126.11,396.06 V405.54 M124.61,396.06 h3 M124.61,405.54 h3" stroke="#a01030" stroke-width="1"/>
<path d="M133.94,409.61 V419.19 M132.44,409.61 h3 M132.44,419.19 h3" stroke="#a01030" stroke-width="1"/>
<path d="M141.78,396.77 V405.63 M140.28,396.77 h3 M140.28,405.63 h3" stroke="#a01030" stroke-width="1"/>
<path d="M149.61,395.16 V403.84 M148.11,395.16 h3 M148.11,403.84 h3" stroke="#a01030" stroke-width="1"/>
<path d="M157.44,394.96 V403.44 M155.94,394.96 h3 M155.94,403.44 h3" stroke="#a01030" stroke-width="1"/>
<path d="M165.28,387.4 V395.4 M163.78,387.4 h3 M163.78,395.4 h3" stroke="#a01030" stroke-width="1"/>
<path d="M173.11,391.92 V399.88 M171.61,391.92 h3 M171.61,399.88 h3" stroke="#a01030" stroke-width="1"/>
<path d="M180.94,394.42 V402.38 M179.44,394.42 h3 M179.44,402.38 h3" stroke="#a01030" stroke-width="1"/>
<path d="M188.77,398.04 V405.56 M187.27,398.04 h3 M187.27,405.56 h3" stroke="#a01030" stroke-width="1"/>
<path d="M196.61,407.19 V414.61 M195.11,407.19 h3 M195.11,414.61 h3" stroke="#a01030" stroke-width="1"/>
<polygon points="55.62,402.8 52.57,408.9 58.67,408.9" fill="none" stroke="#a01030" stroke-width="1.1"/>
<polygon points="63.45,399.3 60.4,405.4 66.5,405.4" fill="none" stroke="#a01030" stroke-width="1.1"/>
<polygon points="71.28,394.9 68.23,401 74.33,401" fill="none" stroke="#a01030" stroke-width="1.1"/>
<polygon points="79.11,396.1 76.06,402.2 82.16,402.2" fill="none" stroke="#a01030" stroke-width="1.1"/>
<polygon points="86.95,402.7 83.9,408.8 90,408.8" fill="none" stroke="#a01030" stroke-width="1.1"/>
<polygon points="94.78,395.9 91.73,402 97.83,402" fill="none" stroke="#a01030" stroke-width="1.1"/>
<polygon points="102.61,396.7 99.56,402.8 105.66,402.8" fill="none" stroke="#a01030" stroke-width="1.1"/>
<polygon points="110.45,381.5 107.4,387.6 113.5,387.6" fill="none" stroke="#a01030" stroke-width="1.1"/>
<polygon points="118.28,393.3 115.23,399.4 121.33,399.4" fill="none" stroke="#a01030" stroke-width="1.1"/>
<polygon points="126.11,397.6 123.06,403.7 129.16,403.7" fill="none" stroke="#a01030" stroke-width="1.1"/>
<polygon points="133.94,411.2 130.89,417.3 136.99,417.3" fill="none" stroke="#a01030" stroke-width="1.1"/>
<polygon points="141.78,398 138.73,404.1 144.83,404.1" fill="none" stroke="#a01030" stroke-width="1.1"/>
<polygon points="149.61,396.3 146.56,402.4 152.66,402.4" fill="none" stroke="#a01030" stroke-width="1.1"/>
<polygon points="157.44,396 154.39,402.1 160.49,402.1" fill="none" stroke="#a01030" stroke-width="1.1"/>
<polygon points="165.28,388.2 162.23,394.3 168.33,394.3" fill="none" stroke="#a01030" stroke-width="1.1"/>
<polygon points="173.11,392.7 170.06,398.8 176.16,398.8" fill="none" stroke="#a01030" stroke-width="1.1"/>
<polygon points="180.94,395.2 177.89,401.3 183.99,401.3" fill="none" stroke="#a01030" stroke-width="1.1"/>
<polygon points="188.77,398.6 185.72,404.7 191.82,404.7" fill="none" stroke="#a01030" stroke-width="1.1"/>
<polygon points="196.61,407.7 193.56,413.8 199.66,413.8" fill="none" stroke="#a01030" stroke-width="1.1"/>
<polygon points="204.44,391.3 201.39,397.4 207.49,397.4" fill="none" stroke="#a01030" stroke-width="1.1"/>
<polygon points="212.27,397.6 209.22,403.7 215.32,403.7" fill="none" stroke="#a01030" stroke-width="1.1"/>
<polygon points="220.1,405 217.05,411.1 223.15,411.1" fill="none" stroke="#a01030" stroke-width="1.1"/>
<polygon points="227.94,395.2 224.89,401.3 230.99,401.3" fill="none" stroke="#a01030" stroke-width="1.1"/>
<polygon points="235.77,398 232.72,404.1 238.82,404.1" fill="none" stroke="#a01030" stroke-width="1.1"/>
<polygon points="243.6,396.6 240.55,402.7 246.65,402.7" fill="none" stroke="#a01030" stroke-width="1.1"/>
<polygon points="251.44,397.2 248.39,403.3 254.49,403.3" fill="none" stroke="#a01030" stroke-width="1.1"/>
<polygon points="259.27,398 256.22,404.1 262.32,404.1" fill="none" stroke="#a01030" stroke-width="1.1"/>
<polygon points="267.1,399.9 264.05,406 270.15,406" fill="none" stroke="#a01030" stroke-width="1.1"/>
<polygon points="274.93,399.9 271.88,406 277.98,406" fill="none" stroke="#a01030" stroke-width="1.1"/>
<polygon points="282.77,401.9 279.72,408 285.82,408" fill="none" stroke="#a01030" stroke-width="1.1"/>
<polygon points="290.6,398 287.55,404.1 293.65,404.1" fill="none" stroke="#a01030" stroke-width="1.1"/>
<polygon points="298.43,398 295.38,404.1 301.48,404.1" fill="none" stroke="#a01030" stroke-width="1.1"/>
<polygon points="306.27,402.5 303.22,408.6 309.32,408.6" fill="none" stroke="#a01030" stroke-width="1.1"/>
<polygon points="314.1,396.6 311.05,402.7 317.15,402.7" fill="none" stroke="#a01030" stroke-width="1.1"/>
<polygon points="321.93,396.6 318.88,402.7 324.98,402.7" fill="none" stroke="#a01030" stroke-width="1.1"/>
<polygon points="329.76,403.1 326.71,409.2 332.81,409.2" fill="none" stroke="#a01030" stroke-width="1.1"/>
<polygon points="337.6,399.5 334.55,405.6 340.65,405.6" fill="none" stroke="#a01030" stroke-width="1.1"/>
<polygon points="345.43,399.1 342.38,405.2 348.48,405.2" fill="none" stroke="#a01030" stroke-width="1.1"/>
<polygon points="353.26,400.5 350.21,406.6 356.31,406.6" fill="none" stroke="#a01030" stroke-width="1.1"/>
<polygon points="361.09,399.5 358.04,405.6 364.14,405.6" fill="none" stroke="#a01030" stroke-width="1.1"/>
<path d="M55.62,408.8 L63.45,421.5 L71.28,412.4 L79.11,422.9 L86.95,421.3 L94.78,417.1 L102.61,431.5 L110.45,416 L118.28,415.4 L126.11,429.1 L133.94,428.5 L141.78,430.5 L149.61,429.1 L157.44,440.2 L165.28,435.9 L173.11,425.2 L180.94,425.2 L188.77,442.2 L196.61,443.4 L204.44,431.6 L212.27,441.4 L220.1,444.7 L227.94,434.4 L235.77,445.7 L243.6,438.3 L251.44,444.7 L259.27,438.9 L267.1,443.4 L274.93,445.3 L282.77,447.7 L290.6,443.8 L298.43,446.7 L306.27,444.1 L314.1,438.3 L321.93,430.1 L329.76,429.7 L337.6,423.2 L345.43,412.5 L353.26,396.9 L361.09,362.1" fill="none" stroke="#ff7a28" stroke-width="1.1" stroke-dasharray="3.3,2.2,1.1,2.6"/>
<path d="M55.62,402.85 V414.75 M54.12,402.85 h3 M54.12,414.75 h3" stroke="#ff7a28" stroke-width="1"/>
<path d="M63.45,415.34 V427.66 M61.95,415.34 h3 M61.95,427.66 h3" stroke="#ff7a28" stroke-width="1"/>
<path d="M71.28,406.16 V418.64 M69.78,406.16 h3 M69.78,418.64 h3" stroke="#ff7a28" stroke-width="1"/>
<path d="M79.11,416.54 V429.26 M77.61,416.54 h3 M77.61,429.26 h3" stroke="#ff7a28" stroke-width="1"/>
<path d="M86.95,415.17 V427.43 M85.45,415.17 h3 M85.45,427.43 h3" stroke="#ff7a28" stroke-width="1"/>
<path d="M94.78,411.09 V423.11 M93.28,411.09 h3 M93.28,423.11 h3" stroke="#ff7a28" stroke-width="1"/>
<path d="M102.61,424.96 V438.04 M101.11,424.96 h3 M101.11,438.04 h3" stroke="#ff7a28" stroke-width="1"/>
<path d="M110.45,409.85 V422.15 M108.95,409.85 h3 M108.95,422.15 h3" stroke="#ff7a28" stroke-width="1"/>
<path d="M118.28,409.38 V421.42 M116.78,409.38 h3 M116.78,421.42 h3" stroke="#ff7a28" stroke-width="1"/>
<path d="M126.11,422.91 V435.29 M124.61,422.91 h3 M124.61,435.29 h3" stroke="#ff7a28" stroke-width="1"/>
<path d="M133.94,422.74 V434.26 M132.44,422.74 h3 M132.44,434.26 h3" stroke="#ff7a28" stroke-width="1"/>
<path d="M141.78,424.68 V436.32 M140.28,424.68 h3 M140.28,436.32 h3" stroke="#ff7a28" stroke-width="1"/>
<path d="M149.61,423.39 V434.81 M148.11,423.39 h3 M148.11,434.81 h3" stroke="#ff7a28" stroke-width="1"/>
<path d="M157.44,434.25 V446.15 M155.94,434.25 h3 M155.94,446.15 h3" stroke="#ff7a28" stroke-width="1"/>
<path d="M165.28,430.18 V441.62 M163.78,430.18 h3 M163.78,441.62 h3" stroke="#ff7a28" stroke-width="1"/>
<path d="M173.11,419.97 V430.43 M171.61,419.97 h3 M171.61,430.43 h3" stroke="#ff7a28" stroke-width="1"/>
<path d="M180.94,420.05 V430.35 M179.44,420.05 h3 M179.44,430.35 h3" stroke="#ff7a28" stroke-width="1"/>
<path d="M188.77,436.94 V447.46 M187.27,436.94 h3 M187.27,447.46 h3" stroke="#ff7a28" stroke-width="1"/>
<path d="M196.61,438.44 V448.36 M195.11,438.44 h3 M195.11,448.36 h3" stroke="#ff7a28" stroke-width="1"/>
<path d="M204.44,426.89 V436.31 M202.94,426.89 h3 M202.94,436.31 h3" stroke="#ff7a28" stroke-width="1"/>
<path d="M212.27,436.88 V445.92 M210.77,436.88 h3 M210.77,445.92 h3" stroke="#ff7a28" stroke-width="1"/>
<path d="M220.1,440.36 V449.04 M218.6,440.36 h3 M218.6,449.04 h3" stroke="#ff7a28" stroke-width="1"/>
<path d="M227.94,430.26 V438.54 M226.44,430.26 h3 M226.44,438.54 h3" stroke="#ff7a28" stroke-width="1"/>
<path d="M235.77,441.62 V449.78 M234.27,441.62 h3 M234.27,449.78 h3" stroke="#ff7a28" stroke-width="1"/>
<path d="M243.6,434.55 V442.05 M242.1,434.55 h3 M242.1,442.05 h3" stroke="#ff7a28" stroke-width="1"/>
<path d="M251.44,441.16 V448.24 M249.94,441.16 h3 M249.94,448.24 h3" stroke="#ff7a28" stroke-width="1"/>
<path d="M259.27,435.49 V442.31 M257.77,435.49 h3 M257.77,442.31 h3" stroke="#ff7a28" stroke-width="1"/>
<path d="M267.1,440.26 V446.54 M265.6,440.26 h3 M265.6,446.54 h3" stroke="#ff7a28" stroke-width="1"/>
<path d="M274.93,442.31 V448.29 M273.43,442.31 h3 M273.43,448.29 h3" stroke="#ff7a28" stroke-width="1"/>
<path d="M282.77,444.93 V450.47 M281.27,444.93 h3 M281.27,450.47 h3" stroke="#ff7a28" stroke-width="1"/>
<path d="M290.6,441.29 V446.31 M289.1,441.29 h3 M289.1,446.31 h3" stroke="#ff7a28" stroke-width="1"/>
<path d="M298.43,444.36 V449.04 M296.93,444.36 h3 M296.93,449.04 h3" stroke="#ff7a28" stroke-width="1"/>
<path d="M306.27,442.01 V446.19 M304.77,442.01 h3 M304.77,446.19 h3" stroke="#ff7a28" stroke-width="1"/>
<path d="M314.1,436.44 V440.16 M312.6,436.44 h3 M312.6,440.16 h3" stroke="#ff7a28" stroke-width="1"/>
<path d="M321.93,428.47 V431.73 M320.43,428.47 h3 M320.43,431.73 h3" stroke="#ff7a28" stroke-width="1"/>
<rect x="53.32" y="406.5" width="4.6" height="4.6" fill="#ff7a28"/>
<rect x="61.15" y="419.2" width="4.6" height="4.6" fill="#ff7a28"/>
<rect x="68.98" y="410.1" width="4.6" height="4.6" fill="#ff7a28"/>
<rect x="76.81" y="420.6" width="4.6" height="4.6" fill="#ff7a28"/>
<rect x="84.65" y="419" width="4.6" height="4.6" fill="#ff7a28"/>
<rect x="92.48" y="414.8" width="4.6" height="4.6" fill="#ff7a28"/>
<rect x="100.31" y="429.2" width="4.6" height="4.6" fill="#ff7a28"/>
<rect x="108.15" y="413.7" width="4.6" height="4.6" fill="#ff7a28"/>
<rect x="115.98" y="413.1" width="4.6" height="4.6" fill="#ff7a28"/>
<rect x="123.81" y="426.8" width="4.6" height="4.6" fill="#ff7a28"/>
<rect x="131.64" y="426.2" width="4.6" height="4.6" fill="#ff7a28"/>
<rect x="139.48" y="428.2" width="4.6" height="4.6" fill="#ff7a28"/>
<rect x="147.31" y="426.8" width="4.6" height="4.6" fill="#ff7a28"/>
<rect x="155.14" y="437.9" width="4.6" height="4.6" fill="#ff7a28"/>
<rect x="162.98" y="433.6" width="4.6" height="4.6" fill="#ff7a28"/>
<rect x="170.81" y="422.9" width="4.6" height="4.6" fill="#ff7a28"/>
<rect x="178.64" y="422.9" width="4.6" height="4.6" fill="#ff7a28"/>
<rect x="186.47" y="439.9" width="4.6" height="4.6" fill="#ff7a28"/>
<rect x="194.31" y="441.1" width="4.6" height="4.6" fill="#ff7a28"/>
<rect x="202.14" y="429.3" width="4.6" height="4.6" fill="#ff7a28"/>
<rect x="209.97" y="439.1" width="4.6" height="4.6" fill="#ff7a28"/>
<rect x="217.8" y="442.4" width="4.6" height="4.6" fill="#ff7a28"/>
<rect x="225.64" y="432.1" width="4.6" height="4.6" fill="#ff7a28"/>
<rect x="233.47" y="443.4" width="4.6" height="4.6" fill="#ff7a28"/>
<rect x="241.3" y="436" width="4.6" height="4.6" fill="#ff7a28"/>
<rect x="249.14" y="442.4" width="4.6" height="4.6" fill="#ff7a28"/>
<rect x="256.97" y="436.6" width="4.6" height="4.6" fill="#ff7a28"/>
<rect x="264.8" y="441.1" width="4.6" height="4.6" fill="#ff7a28"/>
<rect x="272.63" y="443" width="4.6" height="4.6" fill="#ff7a28"/>
<rect x="280.47" y="445.4" width="4.6" height="4.6" fill="#ff7a28"/>
<rect x="288.3" y="441.5" width="4.6" height="4.6" fill="#ff7a28"/>
<rect x="296.13" y="444.4" width="4.6" height="4.6" fill="#ff7a28"/>
<rect x="303.97" y="441.8" width="4.6" height="4.6" fill="#ff7a28"/>
<rect x="311.8" y="436" width="4.6" height="4.6" fill="#ff7a28"/>
<rect x="319.63" y="427.8" width="4.6" height="4.6" fill="#ff7a28"/>
<rect x="327.46" y="427.4" width="4.6" height="4.6" fill="#ff7a28"/>
<rect x="335.3" y="420.9" width="4.6" height="4.6" fill="#ff7a28"/>
<rect x="343.13" y="410.2" width="4.6" height="4.6" fill="#ff7a28"/>
<rect x="350.96" y="394.6" width="4.6" height="4.6" fill="#ff7a28"/>
<rect x="358.79" y="359.8" width="4.6" height="4.6" fill="#ff7a28"/>
<path d="M55.62,431.1 L63.45,415.5 L71.28,396.5 L79.11,386.6 L86.95,401.6 L94.78,395.9 L102.61,387.5 L110.45,380 L118.28,374.8 L126.11,387.6 L133.94,378.6 L141.78,383.8 L149.61,376.1 L157.44,371 L165.28,372.5 L173.11,366.6 L180.94,366 L188.77,374.4 L196.61,376.8 L204.44,370.5 L212.27,376.4 L220.1,373 L227.94,368 L235.77,374.4 L243.6,373.4 L251.44,375 L259.27,365.2 L267.1,373 L274.93,371.9 L282.77,377.7 L290.6,373.4 L298.43,378.3 L306.27,383.6 L314.1,379.7 L321.93,374.4 L329.76,381.1 L337.6,382.8 L345.43,381.6 L353.26,381.3 L361.09,382.2" fill="none" stroke="#0000e6" stroke-width="1.1"/>
<path d="M55.62,423 V439.2 M54.12,423 h3 M54.12,439.2 h3" stroke="#0000e6" stroke-width="1"/>
<path d="M63.45,408.35 V422.65 M61.95,408.35 h3 M61.95,422.65 h3" stroke="#0000e6" stroke-width="1"/>
<path d="M71.28,389.66 V403.34 M69.78,389.66 h3 M69.78,403.34 h3" stroke="#0000e6" stroke-width="1"/>
<path d="M79.11,380.39 V392.81 M77.61,380.39 h3 M77.61,392.81 h3" stroke="#0000e6" stroke-width="1"/>
<path d="M86.95,395.03 V408.17 M85.45,395.03 h3 M85.45,408.17 h3" stroke="#0000e6" stroke-width="1"/>
<path d="M94.78,389.51 V402.29 M93.28,389.51 h3 M93.28,402.29 h3" stroke="#0000e6" stroke-width="1"/>
<path d="M102.61,381.39 V393.61 M101.11,381.39 h3 M101.11,393.61 h3" stroke="#0000e6" stroke-width="1"/>
<path d="M110.45,373.99 V386.01 M108.95,373.99 h3 M108.95,386.01 h3" stroke="#0000e6" stroke-width="1"/>
<path d="M118.28,369.07 V380.53 M116.78,369.07 h3 M116.78,380.53 h3" stroke="#0000e6" stroke-width="1"/>
<path d="M126.11,381.74 V393.46 M124.61,381.74 h3 M124.61,393.46 h3" stroke="#0000e6" stroke-width="1"/>
<path d="M133.94,373.4 V383.8 M132.44,373.4 h3 M132.44,383.8 h3" stroke="#0000e6" stroke-width="1"/>
<path d="M141.78,378.45 V389.15 M140.28,378.45 h3 M140.28,389.15 h3" stroke="#0000e6" stroke-width="1"/>
<path d="M149.61,371.04 V381.16 M148.11,371.04 h3 M148.11,381.16 h3" stroke="#0000e6" stroke-width="1"/>
<path d="M157.44,366.19 V375.81 M155.94,366.19 h3 M155.94,375.81 h3" stroke="#0000e6" stroke-width="1"/>
<path d="M165.28,367.72 V377.28 M163.78,367.72 h3 M163.78,377.28 h3" stroke="#0000e6" stroke-width="1"/>
<path d="M173.11,362.11 V371.09 M171.61,362.11 h3 M171.61,371.09 h3" stroke="#0000e6" stroke-width="1"/>
<path d="M180.94,361.59 V370.41 M179.44,361.59 h3 M179.44,370.41 h3" stroke="#0000e6" stroke-width="1"/>
<path d="M188.77,370.11 V378.69 M187.27,370.11 h3 M187.27,378.69 h3" stroke="#0000e6" stroke-width="1"/>
<path d="M196.61,372.73 V380.87 M195.11,372.73 h3 M195.11,380.87 h3" stroke="#0000e6" stroke-width="1"/>
<path d="M204.44,366.52 V374.48 M202.94,366.52 h3 M202.94,374.48 h3" stroke="#0000e6" stroke-width="1"/>
<path d="M212.27,372.66 V380.14 M210.77,372.66 h3 M210.77,380.14 h3" stroke="#0000e6" stroke-width="1"/>
<path d="M220.1,369.54 V376.46 M218.6,369.54 h3 M218.6,376.46 h3" stroke="#0000e6" stroke-width="1"/>
<path d="M227.94,364.6 V371.4 M226.44,364.6 h3 M226.44,371.4 h3" stroke="#0000e6" stroke-width="1"/>
<path d="M235.77,371.14 V377.66 M234.27,371.14 h3 M234.27,377.66 h3" stroke="#0000e6" stroke-width="1"/>
<path d="M243.6,370.3 V376.5 M242.1,370.3 h3 M242.1,376.5 h3" stroke="#0000e6" stroke-width="1"/>
<path d="M251.44,372.15 V377.85 M249.94,372.15 h3 M249.94,377.85 h3" stroke="#0000e6" stroke-width="1"/>
<path d="M259.27,362.51 V367.89 M257.77,362.51 h3 M257.77,367.89 h3" stroke="#0000e6" stroke-width="1"/>
<path d="M267.1,370.48 V375.52 M265.6,370.48 h3 M265.6,375.52 h3" stroke="#0000e6" stroke-width="1"/>
<path d="M274.93,369.54 V374.26 M273.43,369.54 h3 M273.43,374.26 h3" stroke="#0000e6" stroke-width="1"/>
<path d="M282.77,375.47 V379.93 M281.27,375.47 h3 M281.27,379.93 h3" stroke="#0000e6" stroke-width="1"/>
<path d="M290.6,371.38 V375.42 M289.1,371.38 h3 M289.1,375.42 h3" stroke="#0000e6" stroke-width="1"/>
<path d="M298.43,376.4 V380.2 M296.93,376.4 h3 M296.93,380.2 h3" stroke="#0000e6" stroke-width="1"/>
<path d="M306.27,381.83 V385.37 M304.77,381.83 h3 M304.77,385.37 h3" stroke="#0000e6" stroke-width="1"/>
<polygon points="55.62,428.2 52.92,433.6 58.32,433.6" fill="#0000e6"/>
<polygon points="63.45,412.6 60.75,418 66.15,418" fill="#0000e6"/>
<polygon points="71.28,393.6 68.58,399 73.98,399" fill="#0000e6"/>
<polygon points="79.11,383.7 76.41,389.1 81.81,389.1" fill="#0000e6"/>
<polygon points="86.95,398.7 84.25,404.1 89.65,404.1" fill="#0000e6"/>
<polygon points="94.78,393 92.08,398.4 97.48,398.4" fill="#0000e6"/>
<polygon points="102.61,384.6 99.91,390 105.31,390" fill="#0000e6"/>
<polygon points="110.45,377.1 107.75,382.5 113.15,382.5" fill="#0000e6"/>
<polygon points="118.28,371.9 115.58,377.3 120.98,377.3" fill="#0000e6"/>
<polygon points="126.11,384.7 123.41,390.1 128.81,390.1" fill="#0000e6"/>
<polygon points="133.94,375.7 131.24,381.1 136.64,381.1" fill="#0000e6"/>
<polygon points="141.78,380.9 139.08,386.3 144.48,386.3" fill="#0000e6"/>
<polygon points="149.61,373.2 146.91,378.6 152.31,378.6" fill="#0000e6"/>
<polygon points="157.44,368.1 154.74,373.5 160.14,373.5" fill="#0000e6"/>
<polygon points="165.28,369.6 162.58,375 167.98,375" fill="#0000e6"/>
<polygon points="173.11,363.7 170.41,369.1 175.81,369.1" fill="#0000e6"/>
<polygon points="180.94,363.1 178.24,368.5 183.64,368.5" fill="#0000e6"/>
<polygon points="188.77,371.5 186.07,376.9 191.47,376.9" fill="#0000e6"/>
<polygon points="196.61,373.9 193.91,379.3 199.31,379.3" fill="#0000e6"/>
<polygon points="204.44,367.6 201.74,373 207.14,373" fill="#0000e6"/>
<polygon points="212.27,373.5 209.57,378.9 214.97,378.9" fill="#0000e6"/>
<polygon points="220.1,370.1 217.4,375.5 222.8,375.5" fill="#0000e6"/>
<polygon points="227.94,365.1 225.24,370.5 230.64,370.5" fill="#0000e6"/>
<polygon points="235.77,371.5 233.07,376.9 238.47,376.9" fill="#0000e6"/>
<polygon points="243.6,370.5 240.9,375.9 246.3,375.9" fill="#0000e6"/>
<polygon points="251.44,372.1 248.74,377.5 254.14,377.5" fill="#0000e6"/>
<polygon points="259.27,362.3 256.57,367.7 261.97,367.7" fill="#0000e6"/>
<polygon points="267.1,370.1 264.4,375.5 269.8,375.5" fill="#0000e6"/>
<polygon points="274.93,369 272.23,374.4 277.63,374.4" fill="#0000e6"/>
<polygon points="282.77,374.8 280.07,380.2 285.47,380.2" fill="#0000e6"/>
<polygon points="290.6,370.5 287.9,375.9 293.3,375.9" fill="#0000e6"/>
<polygon points="298.43,375.4 295.73,380.8 301.13,380.8" fill="#0000e6"/>
<polygon points="306.27,380.7 303.57,386.1 308.97,386.1" fill="#0000e6"/>
<polygon points="314.1,376.8 311.4,382.2 316.8,382.2" fill="#0000e6"/>
<polygon points="321.93,371.5 319.23,376.9 324.63,376.9" fill="#0000e6"/>
<polygon points="329.76,378.2 327.06,383.6 332.46,383.6" fill="#0000e6"/>
<polygon points="337.6,379.9 334.9,385.3 340.3,385.3" fill="#0000e6"/>
<polygon points="345.43,378.7 342.73,384.1 348.13,384.1" fill="#0000e6"/>
<polygon points="353.26,378.4 350.56,383.8 355.96,383.8" fill="#0000e6"/>
<polygon points="361.09,379.3 358.39,384.7 363.79,384.7" fill="#0000e6"/>
</g>
<rect x="45.6" y="17.2" width="325.8" height="299.9" fill="none" stroke="#000" stroke-width="1.1"/>
<path d="M45.6,317.1 V477.9 H371.4 V317.1" fill="none" stroke="#000" stroke-width="1.3"/>
<path d="M45,477.9 H372" fill="none" stroke="#000" stroke-width="1.8"/>
<path d="M45.6,317.1 H371.4" fill="none" stroke="#000" stroke-width="1.2"/>
<path d="M51.7,17.2 v8.5 M51.7,317.1 v-7.7 M51.7,317.1 v5.5 M51.7,477.9 v-5 M61.67,17.2 v4 M61.67,317.1 v-2.5 M61.67,317.1 v2.2 M61.67,477.9 v-2 M71.65,17.2 v4 M71.65,317.1 v-2.5 M71.65,317.1 v2.2 M71.65,477.9 v-2 M81.62,17.2 v4 M81.62,317.1 v-2.5 M81.62,317.1 v2.2 M81.62,477.9 v-2 M91.59,17.2 v4 M91.59,317.1 v-2.5 M91.59,317.1 v2.2 M91.59,477.9 v-2 M101.56,17.2 v4 M101.56,317.1 v-2.5 M101.56,317.1 v2.2 M101.56,477.9 v-2 M111.54,17.2 v4 M111.54,317.1 v-2.5 M111.54,317.1 v2.2 M111.54,477.9 v-2 M121.51,17.2 v4 M121.51,317.1 v-2.5 M121.51,317.1 v2.2 M121.51,477.9 v-2 M131.48,17.2 v4 M131.48,317.1 v-2.5 M131.48,317.1 v2.2 M131.48,477.9 v-2 M141.46,17.2 v4 M141.46,317.1 v-2.5 M141.46,317.1 v2.2 M141.46,477.9 v-2 M151.43,17.2 v8.5 M151.43,317.1 v-7.7 M151.43,317.1 v5.5 M151.43,477.9 v-5 M161.4,17.2 v4 M161.4,317.1 v-2.5 M161.4,317.1 v2.2 M161.4,477.9 v-2 M171.38,17.2 v4 M171.38,317.1 v-2.5 M171.38,317.1 v2.2 M171.38,477.9 v-2 M181.35,17.2 v4 M181.35,317.1 v-2.5 M181.35,317.1 v2.2 M181.35,477.9 v-2 M191.32,17.2 v4 M191.32,317.1 v-2.5 M191.32,317.1 v2.2 M191.32,477.9 v-2 M201.3,17.2 v4 M201.3,317.1 v-2.5 M201.3,317.1 v2.2 M201.3,477.9 v-2 M211.27,17.2 v4 M211.27,317.1 v-2.5 M211.27,317.1 v2.2 M211.27,477.9 v-2 M221.24,17.2 v4 M221.24,317.1 v-2.5 M221.24,317.1 v2.2 M221.24,477.9 v-2 M231.21,17.2 v4 M231.21,317.1 v-2.5 M231.21,317.1 v2.2 M231.21,477.9 v-2 M241.19,17.2 v4 M241.19,317.1 v-2.5 M241.19,317.1 v2.2 M241.19,477.9 v-2 M251.16,17.2 v8.5 M251.16,317.1 v-7.7 M251.16,317.1 v5.5 M251.16,477.9 v-5 M261.13,17.2 v4 M261.13,317.1 v-2.5 M261.13,317.1 v2.2 M261.13,477.9 v-2 M271.11,17.2 v4 M271.11,317.1 v-2.5 M271.11,317.1 v2.2 M271.11,477.9 v-2 M281.08,17.2 v4 M281.08,317.1 v-2.5 M281.08,317.1 v2.2 M281.08,477.9 v-2 M291.05,17.2 v4 M291.05,317.1 v-2.5 M291.05,317.1 v2.2 M291.05,477.9 v-2 M301.03,17.2 v4 M301.03,317.1 v-2.5 M301.03,317.1 v2.2 M301.03,477.9 v-2 M311,17.2 v4 M311,317.1 v-2.5 M311,317.1 v2.2 M311,477.9 v-2 M320.97,17.2 v4 M320.97,317.1 v-2.5 M320.97,317.1 v2.2 M320.97,477.9 v-2 M330.94,17.2 v4 M330.94,317.1 v-2.5 M330.94,317.1 v2.2 M330.94,477.9 v-2 M340.92,17.2 v4 M340.92,317.1 v-2.5 M340.92,317.1 v2.2 M340.92,477.9 v-2 M350.89,17.2 v8.5 M350.89,317.1 v-7.7 M350.89,317.1 v5.5 M350.89,477.9 v-5 M360.86,17.2 v4 M360.86,317.1 v-2.5 M360.86,317.1 v2.2 M360.86,477.9 v-2 M370.84,17.2 v4 M370.84,317.1 v-2.5 M370.84,317.1 v2.2 M370.84,477.9 v-2 M45.6,316.37 h6 M371.4,316.37 h-6 M45.6,311.52 h6 M371.4,311.52 h-6 M45.6,307.32 h6 M371.4,307.32 h-6 M45.6,303.62 h6 M371.4,303.62 h-6 M45.6,300.3 h11.6 M371.4,300.3 h-11.6 M45.6,278.49 h6 M371.4,278.49 h-6 M45.6,265.73 h6 M371.4,265.73 h-6 M45.6,256.68 h6 M371.4,256.68 h-6 M45.6,249.66 h6 M371.4,249.66 h-6 M45.6,243.92 h6 M371.4,243.92 h-6 M45.6,239.07 h6 M371.4,239.07 h-6 M45.6,234.87 h6 M371.4,234.87 h-6 M45.6,231.17 h6 M371.4,231.17 h-6 M45.6,227.85 h11.6 M371.4,227.85 h-11.6 M45.6,206.04 h6 M371.4,206.04 h-6 M45.6,193.28 h6 M371.4,193.28 h-6 M45.6,184.23 h6 M371.4,184.23 h-6 M45.6,177.21 h6 M371.4,177.21 h-6 M45.6,171.47 h6 M371.4,171.47 h-6 M45.6,166.62 h6 M371.4,166.62 h-6 M45.6,162.42 h6 M371.4,162.42 h-6 M45.6,158.72 h6 M371.4,158.72 h-6 M45.6,155.4 h11.6 M371.4,155.4 h-11.6 M45.6,133.59 h6 M371.4,133.59 h-6 M45.6,120.83 h6 M371.4,120.83 h-6 M45.6,111.78 h6 M371.4,111.78 h-6 M45.6,104.76 h6 M371.4,104.76 h-6 M45.6,99.02 h6 M371.4,99.02 h-6 M45.6,94.17 h6 M371.4,94.17 h-6 M45.6,89.97 h6 M371.4,89.97 h-6 M45.6,86.27 h6 M371.4,86.27 h-6 M45.6,82.95 h11.6 M371.4,82.95 h-11.6 M45.6,61.14 h6 M371.4,61.14 h-6 M45.6,48.38 h6 M371.4,48.38 h-6 M45.6,39.33 h6 M371.4,39.33 h-6 M45.6,32.31 h6 M371.4,32.31 h-6 M45.6,26.57 h6 M371.4,26.57 h-6 M45.6,21.72 h6 M371.4,21.72 h-6 M45.6,17.52 h6 M371.4,17.52 h-6 M45.6,458.69 h7 M371.4,458.69 h-7 M45.6,442.72 h4.5 M371.4,442.72 h-4.5 M45.6,429.23 h4.5 M371.4,429.23 h-4.5 M45.6,417.54 h4.5 M371.4,417.54 h-4.5 M45.6,407.22 h4.5 M371.4,407.22 h-4.5 M45.6,398 h7 M371.4,398 h-7 M45.6,389.66 h4.5 M371.4,389.66 h-4.5 M45.6,382.04 h4.5 M371.4,382.04 h-4.5 M45.6,375.03 h4.5 M371.4,375.03 h-4.5 M45.6,368.54 h4.5 M371.4,368.54 h-4.5 M45.6,362.5 h6 M371.4,362.5 h-6 M45.6,356.85 h4.5 M371.4,356.85 h-4.5 M45.6,351.54 h4.5 M371.4,351.54 h-4.5 M45.6,346.54 h4.5 M371.4,346.54 h-4.5 M45.6,341.8 h4.5 M371.4,341.8 h-4.5 M45.6,337.31 h7 M371.4,337.31 h-7 M45.6,333.04 h4.5 M371.4,333.04 h-4.5 M45.6,328.97 h4.5 M371.4,328.97 h-4.5 M45.6,325.08 h4.5 M371.4,325.08 h-4.5 M45.6,321.35 h4.5 M371.4,321.35 h-4.5 M45.6,317.78 h4.5 M371.4,317.78 h-4.5" stroke="#000" stroke-width="1" fill="none"/>
<text x="51.1" y="14.2" font-size="12.5" fill="#000" textLength="70.77" lengthAdjust="spacing">7000 GeV pp</text>
<text x="273.3" y="13.8" font-size="12.5" fill="#000" textLength="94.68" lengthAdjust="spacing">Top (parton level)</text>
<text x="187" y="43.9" font-size="9.8" fill="#000" textLength="42.89" lengthAdjust="spacing">&#916;&#981; (ttbar)</text>
<line x1="64" y1="62" x2="88" y2="62" stroke="#c83c5c" stroke-width="1.0" stroke-dasharray="2.2,2.5"/>
<circle cx="76.5" cy="62" r="2.4" fill="none" stroke="#c83c5c" stroke-width="1"/>
<text x="94.5" y="64.8" font-size="9.3" fill="#000" textLength="70.28" lengthAdjust="spacing">Pythia 6.428 345</text>
<line x1="64" y1="75.05" x2="88" y2="75.05" stroke="#bf9450" stroke-width="1.0" stroke-dasharray="1,1.2"/>
<rect x="74" y="72.55" width="5" height="5" fill="none" stroke="#bf9450" stroke-width="1"/>
<text x="94.5" y="77.7" font-size="9.3" fill="#000" textLength="70.28" lengthAdjust="spacing">Pythia 6.428 346</text>
<line x1="64" y1="88.1" x2="88" y2="88.1" stroke="#a01030" stroke-width="1.25"/>
<polygon points="76.5,84.9 73.45,91 79.55,91" fill="none" stroke="#a01030" stroke-width="1.1"/>
<text x="94.5" y="90.6" font-size="9.3" fill="#000" textLength="70.28" lengthAdjust="spacing">Pythia 6.428 370</text>
<line x1="64" y1="101.15" x2="88" y2="101.15" stroke="#ff7a28" stroke-width="1.1" stroke-dasharray="3.3,2.2,1.1,2.6"/>
<rect x="74.2" y="98.85" width="4.6" height="4.6" fill="#ff7a28"/>
<text x="94.6" y="103.8" font-size="9.3" fill="#000" textLength="82.49" lengthAdjust="spacing">Pythia 6.428 default</text>
<line x1="64" y1="114.2" x2="88" y2="114.2" stroke="#0000e6" stroke-width="1.1"/>
<polygon points="76.5,111.3 73.8,116.7 79.2,116.7" fill="#0000e6"/>
<text x="94.6" y="116.5" font-size="9.3" fill="#000" textLength="82.49" lengthAdjust="spacing">Pythia 8.315 default</text>
<text x="174.1" y="301.8" font-size="9.2" fill="#a8a8a8" textLength="67.42" lengthAdjust="spacing">(MC_FBA_TTBAR)</text>
<text x="40.9" y="304.9" font-size="11" text-anchor="end" fill="#000">1</text>
<text x="42" y="231.7" font-size="11" text-anchor="end" fill="#000" letter-spacing="1.2">10</text>
<text x="35.3" y="160.9" font-size="10.6" text-anchor="end" fill="#000">10</text>
<text x="35.2" y="155.6" font-size="7.2" text-anchor="start" fill="#000">2</text>
<text x="35" y="88" font-size="10.6" text-anchor="end" fill="#000">10</text>
<text x="35" y="82.8" font-size="7.2" text-anchor="start" fill="#000">3</text>
<text x="38.5" y="341" font-size="11" text-anchor="end" fill="#000">2</text>
<text x="39.4" y="402.3" font-size="11" text-anchor="end" fill="#000">1</text>
<text x="39.2" y="462.2" font-size="11" text-anchor="end" fill="#000" letter-spacing="0.5">0.5</text>
<text x="373.8" y="341" font-size="11" text-anchor="start" fill="#000">2</text>
<text x="373.8" y="402" font-size="11" text-anchor="start" fill="#000">1</text>
<text x="373.8" y="462" font-size="11" text-anchor="start" fill="#000" letter-spacing="0.5">0.5</text>
<text x="51.7" y="489.2" font-size="11" text-anchor="middle" fill="#000">0</text>
<text x="152.83" y="489.2" font-size="11" text-anchor="middle" fill="#000">1</text>
<text x="251.16" y="489.2" font-size="11" text-anchor="middle" fill="#000">2</text>
<text x="350.89" y="489.2" font-size="11" text-anchor="middle" fill="#000">3</text>
<text transform="translate(17.2,445.9) rotate(-90)" font-size="9.5" fill="#333" textLength="99.69" lengthAdjust="spacing">Ratio to Pythia 6.428 345</text>
<text transform="translate(380.6,126.4) rotate(-90)" font-size="9.0" fill="#808080" textLength="108.6" lengthAdjust="spacing">Rivet 4.1.0, &#8805; 100k events</text>
<text transform="translate(381.2,313) rotate(-90)" font-size="9.0" fill="#808080" textLength="146.78" lengthAdjust="spacing">mcplots.cern.ch [arXiv:2401.10621]</text>
</svg></body></html>
